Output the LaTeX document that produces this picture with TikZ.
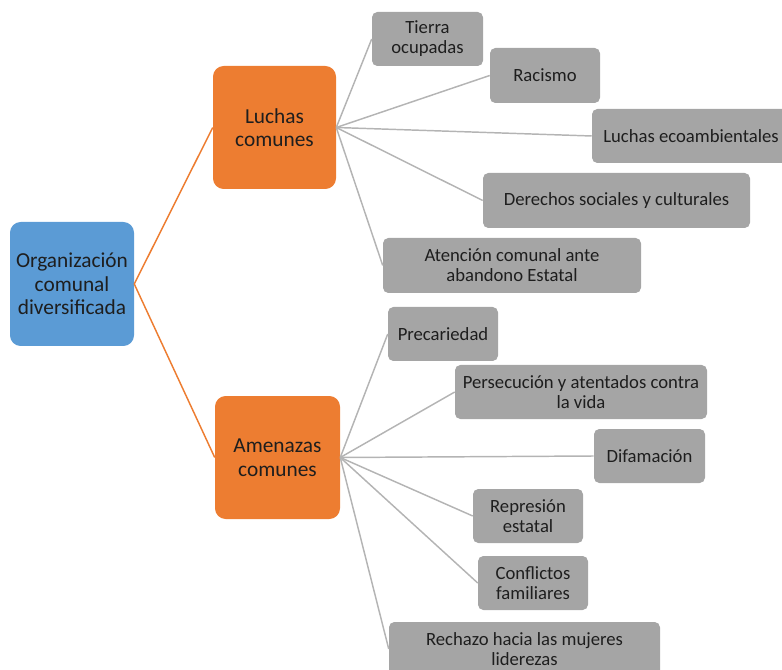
\documentclass[tikz,border=0pt]{standalone}
\usepackage{fontspec}
\setmainfont{Carlito}
\usetikzlibrary{fit}
\definecolor{cblue}{HTML}{5B9BD5}
\definecolor{corange}{HTML}{ED7D31}
\definecolor{cgray}{HTML}{A5A5A5}
\definecolor{ctext}{HTML}{1E1E1E}
\definecolor{cline}{HTML}{B4B4B4}
\tikzset{
  bigbox/.style={rounded corners=8pt, inner sep=0pt},
  rootbox/.style={bigbox, fill=cblue},
  midbox/.style={bigbox, fill=corange},
  gbox/.style={fill=cgray, rounded corners=4pt, inner sep=0pt},
  bigtxt/.style={align=center, text=ctext, inner sep=0pt, font=\fontsize{16}{17.6}\selectfont},
  smtxt/.style={align=center, text=ctext, inner sep=0pt, font=\fontsize{14}{15}\selectfont},
  oline/.style={draw=corange, line width=1.1pt},
  gline/.style={draw=cline, line width=1.1pt},
}
\begin{document}
\begin{tikzpicture}[x=0.75pt, y=-0.75pt]
\useasboundingbox (0,0) rectangle (782,670);
% main boxes
\node[rootbox, fit={(10,222) (134,346)}] (root) {};
\node[bigtxt] (rootT) at (root.center) {Organización\\comunal\\diversificada};
\node[midbox, fit={(213,66) (336,189)}] (luchas) {};
\node[bigtxt] (luchasT) at (luchas.center) {Luchas\\comunes};
\node[midbox, fit={(215,396) (340,519)}] (amen) {};
\node[bigtxt] (amenT) at (amen.center) {Amenazas\\comunes};
% top group
\node[gbox, fit={(372,12) (483,66)}] (t1) {};
\node[smtxt] (t1T) at (t1.center) {Tierra\\ocupadas};
\node[gbox, fit={(490,48) (600,103)}] (t2) {};
\node[smtxt] (t2T) at (t2.center) {Racismo};
\node[gbox, fit={(592,109) (790,163)}] (t3) {};
\node[smtxt] (t3T) at (t3.center) {Luchas ecoambientales};
\node[gbox, fit={(483,173) (750,228)}] (t4) {};
\node[smtxt] (t4T) at (t4.center) {Derechos sociales y culturales};
\node[gbox, fit={(383,238) (641,293)}] (t5) {};
\node[smtxt] (t5T) at (t5.center) {Atención comunal ante\\abandono Estatal};
% bottom group
\node[gbox, fit={(388,307) (498,361)}] (b1) {};
\node[smtxt] (b1T) at (b1.center) {Precariedad};
\node[gbox, fit={(455,365) (707,419)}] (b2) {};
\node[smtxt] (b2T) at (b2.center) {Persecución y atentados contra\\la vida};
\node[gbox, fit={(594,429) (705,483)}] (b3) {};
\node[smtxt] (b3T) at (b3.center) {Difamación};
\node[gbox, fit={(473,489) (583,543)}] (b4) {};
\node[smtxt] (b4T) at (b4.center) {Represión\\estatal};
\node[gbox, fit={(478,556) (588,610)}] (b5) {};
\node[smtxt] (b5T) at (b5.center) {Conflictos\\familiares};
\node[gbox, fit={(389,622) (660,676)}] (b6) {};
\node[smtxt] (b6T) at (b6.center) {Rechazo hacia las mujeres\\liderezas};
% connectors
\draw[oline] (root.east) -- (luchas.west);
\draw[oline] (root.east) -- (amen.west);
\foreach \n in {t1,t2,t3,t4,t5} \draw[gline] (luchas.east) -- (\n.west);
\foreach \n in {b1,b2,b3,b4,b5,b6} \draw[gline] (amen.east) -- (\n.west);
\end{tikzpicture}
\end{document}
